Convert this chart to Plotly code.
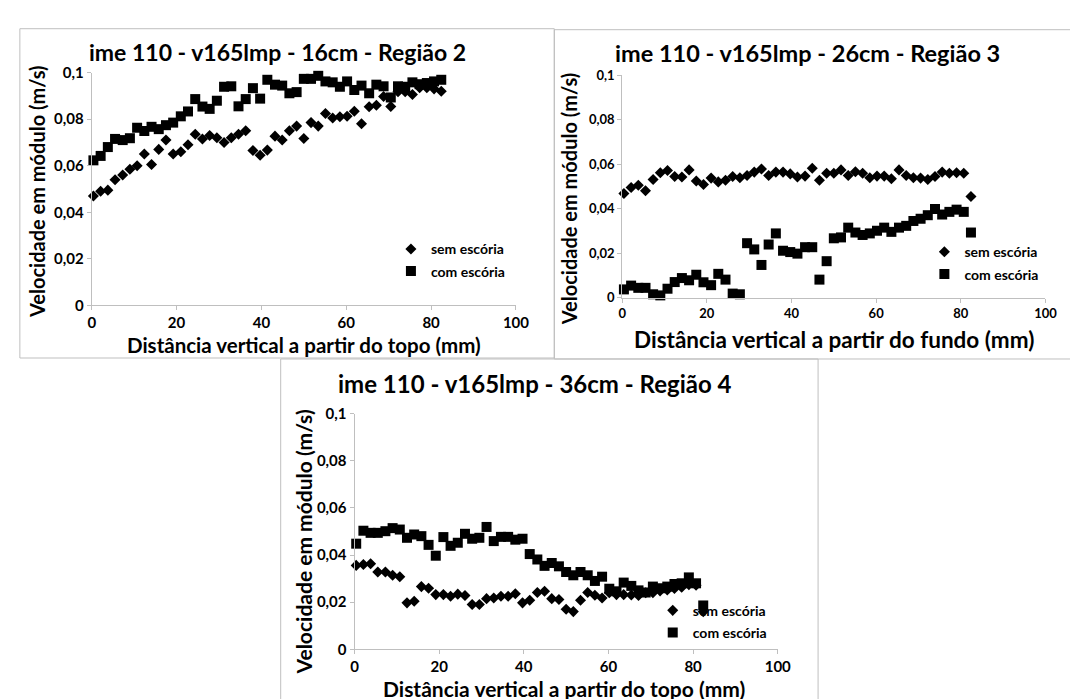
import plotly.graph_objects as go

# ---------------- data ----------------
x_mm = [0.4, 2.1, 3.8, 5.5, 7.3, 9.0, 10.7, 12.4, 14.1, 15.8, 17.5, 19.2, 21.0, 22.7,
        24.4, 26.1, 27.8, 29.5, 31.2, 32.9, 34.6, 36.3, 38.0, 39.7, 41.4, 43.2, 44.9,
        46.6, 48.3, 50.0, 51.7, 53.4, 55.1, 56.8, 58.5, 60.2, 61.9, 63.6, 65.4, 67.1,
        68.8, 70.5, 72.2, 73.9, 75.6, 77.3, 79.0, 80.7, 82.4]

r2_sem = [0.047, 0.049, 0.0495, 0.054, 0.056, 0.0585, 0.060, 0.065, 0.0605, 0.067,
          0.071, 0.065, 0.066, 0.069, 0.0735, 0.0715, 0.073, 0.072, 0.070, 0.072,
          0.0735, 0.075, 0.0665, 0.0645, 0.0667, 0.0727, 0.071, 0.075, 0.077, 0.0717,
          0.0785, 0.077, 0.0824, 0.0805, 0.081, 0.0812, 0.0834, 0.078, 0.0853, 0.086,
          0.0897, 0.0854, 0.0918, 0.0918, 0.0906, 0.0935, 0.0935, 0.093, 0.092]
r2_com = [0.0623, 0.0642, 0.068, 0.0715, 0.071, 0.0718, 0.0763, 0.0749, 0.0767, 0.0757,
          0.0774, 0.0785, 0.0812, 0.0833, 0.0886, 0.0854, 0.0844, 0.0879, 0.0939, 0.0941,
          0.0855, 0.0886, 0.0933, 0.0888, 0.0969, 0.0948, 0.0944, 0.0911, 0.0916, 0.0973,
          0.0973, 0.0986, 0.0962, 0.0958, 0.0939, 0.0962, 0.0925, 0.0944, 0.0911, 0.0948,
          0.0941, 0.0893, 0.0941, 0.0939, 0.0958, 0.095, 0.0955, 0.0962, 0.0969]

r3_sem = [0.0469, 0.0496, 0.0506, 0.0481, 0.0532, 0.0562, 0.0572, 0.0545, 0.0543, 0.0575,
          0.0525, 0.0509, 0.0538, 0.0521, 0.0528, 0.0545, 0.054, 0.055, 0.0565, 0.0579,
          0.055, 0.0565, 0.0565, 0.0557, 0.0543, 0.0547, 0.0582, 0.0528, 0.056, 0.056,
          0.0575, 0.055, 0.0567, 0.056, 0.054, 0.0547, 0.0547, 0.0535, 0.0575, 0.055,
          0.054, 0.0538, 0.0532, 0.0545, 0.0565, 0.056, 0.0562, 0.056, 0.0455]
r3_com = [0.0037, 0.0054, 0.0044, 0.0044, 0.0015, 0.001, 0.004, 0.007, 0.0088, 0.0078,
          0.0103, 0.0069, 0.0056, 0.0107, 0.0081, 0.0018, 0.0015, 0.0245, 0.0217, 0.0147,
          0.0239, 0.0289, 0.0211, 0.0205, 0.0198, 0.0227, 0.0227, 0.0081, 0.0164, 0.0267,
          0.0271, 0.0315, 0.0293, 0.0282, 0.0289, 0.0301, 0.0315, 0.0296, 0.0315, 0.0323,
          0.0345, 0.0355, 0.0371, 0.0399, 0.0374, 0.0386, 0.0396, 0.0386, 0.0293]

r4_sem = [0.0356, 0.036, 0.0363, 0.0328, 0.0328, 0.0314, 0.0308, 0.0197, 0.0204, 0.0266,
          0.0259, 0.0232, 0.0232, 0.0225, 0.0234, 0.0228, 0.019, 0.019, 0.0215, 0.0218,
          0.0225, 0.0225, 0.0236, 0.0197, 0.0208, 0.0241, 0.0246, 0.0215, 0.0211, 0.017,
          0.016, 0.0208, 0.0241, 0.0229, 0.0218, 0.024, 0.0232, 0.0232, 0.023, 0.0228,
          0.024, 0.024, 0.0248, 0.0252, 0.0258, 0.0263, 0.0274, 0.0272, 0.0159]
r4_com = [0.0448, 0.0503, 0.0494, 0.0494, 0.0501, 0.0514, 0.0508, 0.0473, 0.0487, 0.048,
          0.0443, 0.0397, 0.0476, 0.0439, 0.0452, 0.049, 0.0469, 0.0473, 0.0519, 0.0459,
          0.0477, 0.0477, 0.0465, 0.0469, 0.0404, 0.0381, 0.0354, 0.0366, 0.0352, 0.0328,
          0.0314, 0.0328, 0.0314, 0.029, 0.0308, 0.0257, 0.0246, 0.0283, 0.0269, 0.025,
          0.0241, 0.0266, 0.0259, 0.0266, 0.0277, 0.028, 0.0305, 0.028, 0.0186]

titles = ["ime 110 - v165lmp - 16cm - Região 2",
          "ime 110 - v165lmp - 26cm - Região 3",
          "ime 110 - v165lmp - 36cm - Região 4"]
x_titles = ["Distância vertical a partir do topo (mm)",
            "Distância vertical a partir do fundo (mm)",
            "Distância vertical a partir do topo (mm)"]
y_title = "Velocidade em módulo (m/s)"
series_names = ["sem escória", "com escória"]

# ---------------- layout helpers ----------------
W, H = 1078, 699
def px(x):
    return x / W
def py(y):
    return 1 - y / H

FONT = "Lato"
AX = "#BFBFBF"

panels = [
    dict(xd=(81, 512), yd=(295, 56), box=(8, 11, 551, 349),
         title=(270, 35), xt=(297, 336), yt=(26, 178), leg=(385, 221),
         fs=dict(title=23, xt=20.5, yt=20, tick=15)),
    dict(xd=(620, 1050), yd=(287, 59), box=(551, 12, 1080, 350),
         title=(808, 36), xt=(835, 330), yt=(566, 186), leg=(927, 224),
         fs=dict(title=23.5, xt=22.5, yt=20, tick=13)),
    dict(xd=(348, 778), yd=(648, 406), box=(273, 350, 819, 702),
         title=(531, 375), xt=(561, 688), yt=(296, 538), leg=(651, 592),
         fs=dict(title=24, xt=21, yt=21, tick=15)),
]
data_sets = [(r2_sem, r2_com), (r3_sem, r3_com), (r4_sem, r4_com)]

fig = go.Figure()
layout = dict(
    width=W, height=H,
    margin=dict(l=0, r=0, t=0, b=0),
    paper_bgcolor="white", plot_bgcolor="white",
    separators=",.",
    font=dict(family=FONT, color="#000000"),
    annotations=[], shapes=[],
)

for i, (p, (sem, com)) in enumerate(zip(panels, data_sets)):
    n = "" if i == 0 else str(i + 1)
    leg = "legend" if i == 0 else f"legend{i+1}"
    fs = p["fs"]
    fig.add_trace(go.Scatter(
        x=x_mm, y=sem, mode="markers", name=series_names[0],
        marker=dict(symbol="diamond", size=8.5, color="#000000"),
        xaxis=f"x{n}", yaxis=f"y{n}", legend=leg, legendgroup=f"a{i}",
        cliponaxis=False))
    fig.add_trace(go.Scatter(
        x=x_mm, y=com, mode="markers", name=series_names[1],
        marker=dict(symbol="square", size=10, color="#000000"),
        xaxis=f"x{n}", yaxis=f"y{n}", legend=leg, legendgroup=f"b{i}",
        cliponaxis=False))

    xa = dict(domain=[px(p["xd"][0]), px(p["xd"][1])], range=[0, 100],
              anchor=f"y{n}", showgrid=False, zeroline=False, showline=True,
              linecolor=AX, linewidth=1, ticks="outside", ticklen=4, tickcolor=AX,
              tickvals=[0, 20, 40, 60, 80, 100], fixedrange=True,
              tickfont=dict(family=FONT, size=fs["tick"], weight="bold", color="#000"))
    ya = dict(domain=[py(p["yd"][0]), py(p["yd"][1])], range=[0, 0.1],
              anchor=f"x{n}", showgrid=False, zeroline=False, showline=True,
              linecolor=AX, linewidth=1, ticks="outside", ticklen=4, tickcolor=AX,
              tickvals=[0, 0.02, 0.04, 0.06, 0.08, 0.1], fixedrange=True,
              tickfont=dict(family=FONT, size=fs["tick"], weight="bold", color="#000"))
    layout[f"xaxis{n}"] = xa
    layout[f"yaxis{n}"] = ya

    layout[leg] = dict(
        x=px(p["leg"][0]), y=py(p["leg"][1]), xanchor="left", yanchor="top",
        xref="paper", yref="paper", bgcolor="rgba(0,0,0,0)",
        font=dict(family=FONT, size=14, weight="bold", color="#000"),
        itemwidth=30, tracegroupgap=1)

    bx0, by0, bx1, by1 = p["box"]
    layout["shapes"].append(dict(type="rect", xref="paper", yref="paper",
                                 x0=px(bx0), x1=px(bx1), y0=py(by1), y1=py(by0),
                                 line=dict(color=AX, width=1), layer="below"))
    layout["annotations"].append(dict(
        text=titles[i], xref="paper", yref="paper", x=px(p["title"][0]), y=py(p["title"][1]),
        xanchor="center", yanchor="middle", showarrow=False,
        font=dict(family=FONT, size=fs["title"], weight="bold", color="#000")))
    layout["annotations"].append(dict(
        text=x_titles[i], xref="paper", yref="paper", x=px(p["xt"][0]), y=py(p["xt"][1]),
        xanchor="center", yanchor="middle", showarrow=False,
        font=dict(family=FONT, size=fs["xt"], weight="bold", color="#000")))
    layout["annotations"].append(dict(
        text=y_title, xref="paper", yref="paper", x=px(p["yt"][0]), y=py(p["yt"][1]),
        xanchor="center", yanchor="middle", showarrow=False, textangle=-90,
        font=dict(family=FONT, size=fs["yt"], weight="bold", color="#000")))

fig.update_layout(**layout)
fig.write_html("out.html")
